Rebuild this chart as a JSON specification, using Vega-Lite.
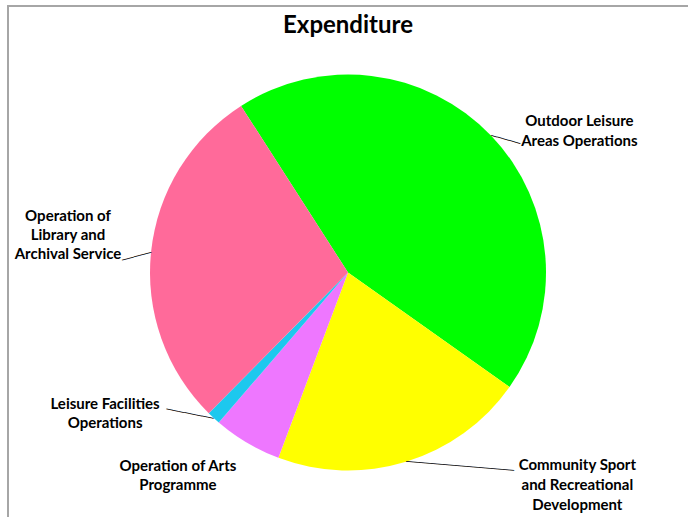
{
  "$schema": "https://vega.github.io/schema/vega-lite/v6.json",
  "autosize": "none",
  "width": 680,
  "height": 533,
  "padding": {"left": 8, "top": 6, "right": 0, "bottom": -22},
  "background": "white",
  "config": {
    "view": {"stroke": null},
    "font": "Lato"
  },
  "title": {
    "text": "Expenditure",
    "font": "Lato",
    "fontSize": 24,
    "fontWeight": "bold",
    "color": "black",
    "anchor": "middle",
    "frame": "group",
    "baseline": "alphabetic",
    "offset": -30,
    "dy": 22
  },
  "data": {
    "values": [
      {"idx": 1, "cat": "Outdoor Leisure Areas Operations", "value": 43.9, "label": ["Outdoor Leisure", "Areas Operations"]},
      {"idx": 2, "cat": "Community Sport and Recreational Development", "value": 20.9, "label": ["Community Sport", "and Recreational", "Development"]},
      {"idx": 3, "cat": "Operation of Arts Programme", "value": 5.6, "label": ["Operation of Arts", "Programme"]},
      {"idx": 4, "cat": "Leisure Facilities Operations", "value": 1.1, "label": ["Leisure Facilities", "Operations"]},
      {"idx": 5, "cat": "Operation of Library and Archival Service", "value": 28.5, "label": ["Operation of", "Library and", "Archival Service"]}
    ]
  },
  "layer": [
    {
      "mark": {"type": "rect", "fill": null, "stroke": "#a6a6a6", "strokeWidth": 1.5},
      "encoding": {
        "x": {"value": 0},
        "x2": {"value": {"expr": "width + 6"}},
        "y": {"value": 0},
        "y2": {"value": "height"}
      }
    },
    {
      "encoding": {
        "theta": {
          "field": "value",
          "type": "quantitative",
          "stack": true,
          "scale": {"range": [5.7124, 11.9956]}
        },
        "order": {"field": "idx", "type": "quantitative"},
        "detail": {"field": "cat", "type": "nominal"}
      },
      "layer": [
        {
          "mark": {"type": "arc", "outerRadius": 198, "stroke": null},
          "encoding": {
            "color": {
              "field": "cat",
              "type": "nominal",
              "sort": null,
              "legend": null,
              "scale": {
                "domain": ["Outdoor Leisure Areas Operations", "Community Sport and Recreational Development", "Operation of Arts Programme", "Leisure Facilities Operations", "Operation of Library and Archival Service"],
                "range": ["#00ff00", "#ffff00", "#ee77ff", "#1dc8ee", "#ff6a9a"]
              }
            }
          }
        },
        {
          "mark": {"type": "text", "radius": 198, "font": "DejaVu Sans Mono", "fontSize": 10, "align": "left", "baseline": "middle", "color": "black"},
          "encoding": {
            "text": {
              "condition": [
                {"test": "datum.idx == 1", "value": "─────"},
                {"test": "datum.idx == 2", "value": "──────────────────"},
                {"test": "datum.idx == 4", "value": "────────"},
                {"test": "datum.idx == 5", "value": "─────"}
              ],
              "value": ""
            },
            "angle": {
              "condition": [
                {"test": "datum.idx == 1", "value": 15.9},
                {"test": "datum.idx == 2", "value": 4.8},
                {"test": "datum.idx == 4", "value": 191.2},
                {"test": "datum.idx == 5", "value": 164.7}
              ],
              "value": 0
            }
          }
        },
        {
          "mark": {"type": "text", "radius": 198, "dx": 88.2, "dy": -14.8, "font": "Lato", "fontSize": 15, "fontWeight": "bold", "align": "center", "baseline": "middle", "lineHeight": 20, "color": "black"},
          "encoding": {"text": {"condition": {"test": "datum.idx == 1", "field": "label"}, "value": ""}}
        },
        {
          "mark": {"type": "text", "radius": 198, "dx": 171.3, "dy": 3.1, "font": "Lato", "fontSize": 15, "fontWeight": "bold", "align": "center", "baseline": "middle", "lineHeight": 20, "color": "black"},
          "encoding": {"text": {"condition": {"test": "datum.idx == 2", "field": "label"}, "value": ""}}
        },
        {
          "mark": {"type": "text", "radius": 198, "dx": -69.1, "dy": 23.4, "font": "Lato", "fontSize": 15, "fontWeight": "bold", "align": "center", "baseline": "middle", "lineHeight": 19, "color": "black"},
          "encoding": {"text": {"condition": {"test": "datum.idx == 3", "field": "label"}, "value": ""}}
        },
        {
          "mark": {"type": "text", "radius": 198, "dx": -108.6, "dy": -13.5, "font": "Lato", "fontSize": 15, "fontWeight": "bold", "align": "center", "baseline": "middle", "lineHeight": 19, "color": "black"},
          "encoding": {"text": {"condition": {"test": "datum.idx == 4", "field": "label"}, "value": ""}}
        },
        {
          "mark": {"type": "text", "radius": 198, "dx": -83.1, "dy": -36.3, "font": "Lato", "fontSize": 15, "fontWeight": "bold", "align": "center", "baseline": "middle", "lineHeight": 19, "color": "black"},
          "encoding": {"text": {"condition": {"test": "datum.idx == 5", "field": "label"}, "value": ""}}
        }
      ]
    }
  ]
}
